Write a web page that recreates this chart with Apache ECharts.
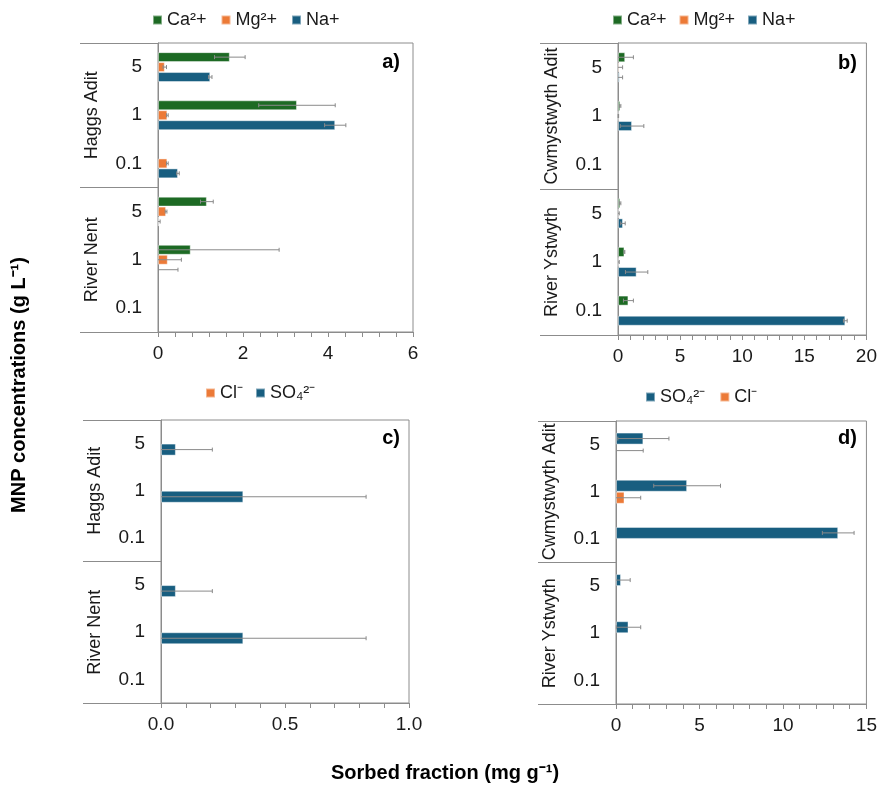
<!DOCTYPE html>
<html>
<head>
<meta charset="utf-8">
<script src="https://cdn.jsdelivr.net/npm/echarts@6/dist/echarts.min.js"></script>
<style>html,body{margin:0;padding:0;background:#fff}#c{width:880px;height:785px}</style>
</head>
<body>
<div id="c"></div>
<script>
// ---------- data (top-to-bottom order within each panel) ----------
const concLabels = ['5', '1', '0.1'];
const groupsAC = ['Haggs Adit', 'River Nent'];
const groupsBD = ['Cwmystwyth Adit', 'River Ystwyth'];

// panel a (Haggs Adit 5,1,0.1 ; River Nent 5,1,0.1)
const caA = [1.69, 3.27, 0, 1.15, 0.77, 0];
const caAErr = [0.36, 0.90, 0, 0.15, 2.08, 0];
const mgA = [0.16, 0.22, 0.22, 0.19, 0.23, 0];
const mgAErr = [0.04, 0.02, 0.02, 0.02, 0.32, 0];
const naA = [1.23, 4.17, 0.47, 0.02, 0, 0];
const naAErr = [0.04, 0.25, 0.03, 0.03, 0.47, 0];

// panel b (Cwmystwyth Adit 5,1,0.1 ; River Ystwyth 5,1,0.1)
const caB = [0.58, 0.18, 0, 0.18, 0.52, 0.84];
const caBErr = [0.66, 0.05, 0, 0.05, 0.03, 0.40];
const mgB = [0.10, 0.03, 0, 0.05, 0.05, 0];
const mgBErr = [0.27, 0.02, 0, 0.05, 0.05, 0];
const naB = [0.13, 1.13, 0, 0.40, 1.50, 18.30];
const naBErr = [0.24, 0.95, 0, 0.18, 0.90, 0.15];

// panel c
const clC = [0, 0, 0, 0, 0, 0];
const clCErr = [0, 0, 0, 0, 0, 0];
const so4C = [0.06, 0.332, 0, 0.06, 0.332, 0];
const so4CErr = [0.147, 0.495, 0, 0.147, 0.495, 0];

// panel d
const so4D = [1.64, 4.26, 13.31, 0.30, 0.75, 0];
const so4DErr = [1.53, 2.00, 0.95, 0.55, 0.73, 0];
const clD = [0, 0.51, 0, 0, 0, 0];
const clDErr = [1.63, 0.97, 0, 0, 0, 0];

const xTicksA = {min: 0, max: 6, interval: 2};
const xTicksB = {min: 0, max: 20, interval: 5};
const xTicksC = {min: 0, max: 1, interval: 0.5};
const xTicksD = {min: 0, max: 15, interval: 5};

// ---------- styling ----------
const FONT = '"Liberation Sans", Arial, sans-serif';
const GREEN = '#1d6a24', ORANGE = '#ec7a37', BLUE = '#185e80';
const LINE = '#8c8c8c', ERR = '#8a8a8a', TXT = '#1a1a1a';
const N_CA = 'Ca²+', N_MG = 'Mg²+', N_NA = 'Na+', N_CL = 'Cl⁻', N_SO4 = 'SO₄²⁻';

const panels = [
  {grid: {left: 158, top: 43, width: 255, height: 289}, groups: groupsAC, ticks: xTicksA, fmt: v => String(v), gap: 0.38,
   series: [[N_CA, GREEN, caA, caAErr], [N_MG, ORANGE, mgA, mgAErr], [N_NA, BLUE, naA, naAErr]],
   legend: {left: 152, top: 11, gap: 14, data: [N_CA, N_MG, N_NA]}, tag: 'a)', tagPos: [400, 62]},
  {grid: {left: 618, top: 43, width: 252, height: 292}, groups: groupsBD, ticks: xTicksB, fmt: v => String(v), gap: 0.38,
   series: [[N_CA, GREEN, caB, caBErr], [N_MG, ORANGE, mgB, mgBErr], [N_NA, BLUE, naB, naBErr]],
   legend: {left: 612, top: 11, gap: 12, data: [N_CA, N_MG, N_NA]}, tag: 'b)', tagPos: [857, 63]},
  {grid: {left: 161, top: 420, width: 248, height: 283}, groups: groupsAC, ticks: xTicksC, fmt: v => v.toFixed(1), gap: 0.49,
   series: [[N_CL, ORANGE, clC, clCErr], [N_SO4, BLUE, so4C, so4CErr]],
   legend: {left: 205, top: 384, gap: 12, data: [N_CL, N_SO4]}, tag: 'c)', tagPos: [400, 438]},
  {grid: {left: 616, top: 421, width: 253, height: 283}, groups: groupsBD, ticks: xTicksD, fmt: v => String(v), gap: 0.49,
   series: [[N_SO4, BLUE, so4D, so4DErr], [N_CL, ORANGE, clD, clDErr]],
   legend: {left: 645, top: 388, gap: 14, data: [N_SO4, N_CL]}, tag: 'd)', tagPos: [857, 438]}
];

const option = {
  animation: false,
  textStyle: {fontFamily: FONT},
  grid: [], xAxis: [], yAxis: [], series: [], legend: [], graphic: []
};

function errorSeries(p, name, vals, errs, i, n, gap) {
  return {
    type: 'custom', name: name + ' err', xAxisIndex: p, yAxisIndex: 2 * p, z: 10, silent: true,
    data: vals.map((v, k) => [v, k, errs[k]]),
    encode: {x: 0, y: 1},
    renderItem(params, api) {
      const v = api.value(0), k = api.value(1), e = api.value(2);
      if (!e) return null;
      const band = api.size([0, 1])[1];
      const usable = band * (1 - gap);
      const w = usable / n;
      const c = api.coord([v, k]);
      const y = c[1] - usable / 2 + (i + 0.5) * w;
      const lo = v - e;
      const x1 = api.coord([Math.max(0, lo), k])[0];
      const x2 = api.coord([v + e, k])[0];
      const cap = 2;
      const st = {stroke: ERR, lineWidth: 1};
      const children = [
        {type: 'line', shape: {x1: x1, y1: y, x2: x2, y2: y}, style: st},
        {type: 'line', shape: {x1: x2, y1: y - cap, x2: x2, y2: y + cap}, style: st}
      ];
      if (lo > 0) children.push({type: 'line', shape: {x1: x1, y1: y - cap, x2: x1, y2: y + cap}, style: st});
      return {type: 'group', children: children};
    }
  };
}

panels.forEach((P, p) => {
  option.grid.push(Object.assign({show: true, borderColor: LINE, borderWidth: 1, backgroundColor: 'transparent'}, P.grid));
  option.xAxis.push({
    type: 'value', gridIndex: p, min: P.ticks.min, max: P.ticks.max, interval: P.ticks.interval,
    axisLine: {show: true, lineStyle: {color: LINE, width: 1}},
    axisTick: {show: true, inside: false, length: 5, lineStyle: {color: LINE}},
    minorTick: {show: true, splitNumber: 5, length: 5, lineStyle: {color: LINE}},
    splitLine: {show: false},
    axisLabel: {fontSize: 19, color: TXT, margin: 12, fontFamily: FONT, formatter: P.fmt}
  });
  const cats = [];
  P.groups.forEach(g => concLabels.forEach(c => cats.push(g + '|' + c)));
  option.yAxis.push({
    type: 'category', gridIndex: p, inverse: true, position: 'left', data: cats,
    axisLine: {show: true, lineStyle: {color: LINE, width: 1}},
    axisTick: {show: false},
    axisLabel: {fontSize: 19, color: TXT, margin: 16, interval: 0, fontFamily: FONT, formatter: v => v.split('|')[1]}
  });
  option.yAxis.push({
    type: 'category', gridIndex: p, inverse: true, position: 'left', data: P.groups,
    axisLine: {show: false},
    axisTick: {show: true, interval: 0, length: 78, lineStyle: {color: LINE, width: 1}},
    axisLabel: {fontSize: 18, color: TXT, margin: 57, rotate: 90, interval: 0, hideOverlap: false, fontFamily: FONT}
  });
  const n = P.series.length;
  P.series.forEach((s, i) => {
    option.series.push({
      type: 'bar', name: s[0], xAxisIndex: p, yAxisIndex: 2 * p,
      barCategoryGap: (P.gap * 100) + '%', barGap: '0%',
      itemStyle: {color: s[1], borderColor: 'rgba(255,255,255,0.45)', borderWidth: 1},
      data: s[2].map(v => (v === 0 ? null : v)),
      z: 2
    });
  });
  P.series.forEach((s, i) => option.series.push(errorSeries(p, s[0], s[2], s[3], i, n, P.gap)));
  option.legend.push({
    left: P.legend.left, top: P.legend.top, orient: 'horizontal', icon: 'rect', padding: 0,
    itemWidth: 9, itemHeight: 9, itemGap: P.legend.gap, selectedMode: false,
    textStyle: {fontSize: 18, color: TXT, fontFamily: FONT},
    data: P.legend.data
  });
  option.graphic.push({
    type: 'text', x: P.tagPos[0], y: P.tagPos[1], silent: true,
    style: {text: P.tag, fill: '#000', font: 'bold 20px ' + FONT, textAlign: 'right', textVerticalAlign: 'middle'}
  });
});

option.graphic.push({
  type: 'text', x: 19, y: 385, rotation: Math.PI / 2, silent: true,
  style: {text: 'MNP concentrations (g L⁻¹)', fill: '#000', font: 'bold 20px ' + FONT, textAlign: 'center', textVerticalAlign: 'middle'}
});
option.graphic.push({
  type: 'text', x: 445, y: 773, silent: true,
  style: {text: 'Sorbed fraction (mg g⁻¹)', fill: '#000', font: 'bold 20px ' + FONT, textAlign: 'center', textVerticalAlign: 'middle'}
});

const chart = echarts.init(document.getElementById('c'), null, {renderer: 'canvas'});
chart.setOption(option);
</script>
</body>
</html>
